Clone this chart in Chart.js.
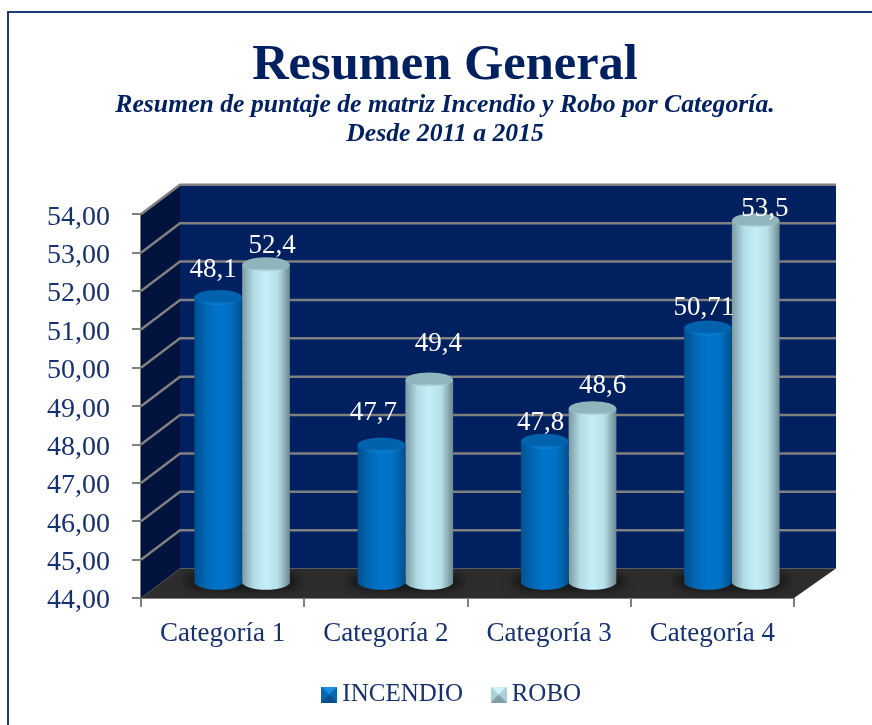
<!DOCTYPE html>
<html>
<head>
<meta charset="utf-8">
<title>Resumen General</title>
<script src="https://cdn.jsdelivr.net/npm/chart.js@4/dist/chart.umd.min.js"></script>
<style>
    html, body { margin: 0; padding: 0; background: #fff; overflow: hidden; }
    #wrap { position: relative; width: 872px; height: 725px; }
    #frame { position: absolute; left: 7px; top: 11px; right: 0; bottom: 0; border-left: 2px solid #1f3a78; border-top: 2px solid #1f3a78; }
    canvas { position: absolute; left: 0; top: 0; }
</style>
</head>
<body>
<div id="wrap">
    <div id="frame"></div>
    <canvas id="chart" width="872" height="725"></canvas>
</div>
<script>
// Data
const categories = ['Categoría 1', 'Categoría 2', 'Categoría 3', 'Categoría 4'];
const seriesNames = ['INCENDIO', 'ROBO'];
const incendioValues = [51.45, 47.6, 47.7, 50.65];
const roboValues = [52.3, 49.3, 48.55, 53.45];
const incendioLabels = ['48,1', '47,7', '47,8', '50,71'];
const roboLabels = ['52,4', '49,4', '48,6', '53,5'];
const axisMin = 44;
const axisMax = 54;

// Nudges of the value labels from the top of their bar [dx, dy]
const incendioNudges = [[-5, -20], [-8, -25], [-4, -11], [-4, -13]];
const roboNudges = [[6, -11], [9, -28], [10, -15], [9, -4]];

const NAVY = '#17316e';
const FONT = '"Liberation Serif", serif';
const AXIS_GREY = '#808080';
const DEPTH_X = 39;
const DEPTH_Y = -29.5;
const RIGHT_DEPTH_X = 42;
const CAP_H = 7.5;

// Bar controller that paints each bar as a cylinder
class CylinderController extends Chart.BarController {
    draw() {
        const ctx = this.chart.ctx;
        const ds = this.getDataset();
        this.getMeta().data.forEach(bar => {
            const rx = bar.width / 2;
            const cx = bar.x + DEPTH_X / 2;
            const top = bar.y + DEPTH_Y / 2;
            const base = bar.base + DEPTH_Y / 2;

            ctx.save();
            const side = ctx.createLinearGradient(cx - rx, 0, cx + rx, 0);
            ds.sideColors.forEach((c, i, all) => side.addColorStop(i / (all.length - 1), c));
            ctx.fillStyle = side;
            ctx.beginPath();
            ctx.moveTo(cx - rx, top);
            ctx.lineTo(cx - rx, base);
            ctx.ellipse(cx, base, rx, CAP_H, 0, Math.PI, 0, true);
            ctx.lineTo(cx + rx, top);
            ctx.closePath();
            ctx.fill();

            const cap = ctx.createLinearGradient(0, top - CAP_H, 0, top + CAP_H);
            cap.addColorStop(0, ds.capColors[0]);
            cap.addColorStop(0.75, ds.capColors[0]);
            cap.addColorStop(1, ds.capColors[1]);
            ctx.fillStyle = cap;
            ctx.beginPath();
            ctx.ellipse(cx, top, rx, CAP_H, 0, 0, Math.PI * 2);
            ctx.fill();
            ctx.restore();
        });
    }
}
CylinderController.id = 'cylinder';
CylinderController.defaults = Chart.BarController.defaults;
CylinderController.overrides = Chart.BarController.overrides;

Chart.register(CylinderController);

// Back wall, side wall, floor and grid lines of the 3D box
const wallsPlugin = {
    id: 'walls',
    beforeDatasetsDraw(chart) {
        const { ctx, chartArea: a, scales } = chart;
        const backTop = a.top + DEPTH_Y;
        const backBottom = a.bottom + DEPTH_Y;
        const backLeft = a.left + DEPTH_X;
        const backRight = a.right + RIGHT_DEPTH_X;

        ctx.save();
        ctx.fillStyle = '#002060';
        ctx.fillRect(backLeft, backTop, backRight - backLeft, backBottom - backTop);

        ctx.fillStyle = '#00133d';
        ctx.beginPath();
        ctx.moveTo(a.left, a.top);
        ctx.lineTo(backLeft, backTop);
        ctx.lineTo(backLeft, backBottom);
        ctx.lineTo(a.left, a.bottom);
        ctx.closePath();
        ctx.fill();

        ctx.fillStyle = '#2d2d2d';
        ctx.beginPath();
        ctx.moveTo(a.left, a.bottom);
        ctx.lineTo(backLeft, backBottom);
        ctx.lineTo(backRight, backBottom);
        ctx.lineTo(a.right, a.bottom);
        ctx.closePath();
        ctx.fill();

        // grid lines, skipping the floor line
        ctx.strokeStyle = AXIS_GREY;
        ctx.lineWidth = 2.5;
        scales.y.ticks.forEach((t, i) => {
            if (t.value === scales.y.min) return;
            const y = scales.y.getPixelForTick(i);
            ctx.beginPath();
            ctx.moveTo(a.left, y);
            ctx.lineTo(backLeft, y + DEPTH_Y);
            ctx.lineTo(backRight, y + DEPTH_Y);
            ctx.stroke();
        });

        // soft shadow under each pair of bars
        ctx.beginPath();
        ctx.moveTo(a.left, a.bottom);
        ctx.lineTo(backLeft, backBottom);
        ctx.lineTo(backRight, backBottom);
        ctx.lineTo(a.right, a.bottom);
        ctx.closePath();
        ctx.clip();
        ctx.filter = 'blur(5px)';
        ctx.fillStyle = '#151515';
        chart.data.datasets.forEach((ds, d) => {
            chart.getDatasetMeta(d).data.forEach(bar => {
                ctx.beginPath();
                ctx.ellipse(bar.x + DEPTH_X / 2, bar.base + DEPTH_Y / 2 - 1, bar.width / 2 + 10, CAP_H + 2, 0, 0, Math.PI * 2);
                ctx.fill();
            });
        });
        ctx.restore();
    }
};

// Value labels as printed on the picture
const valueLabelsPlugin = {
    id: 'valueLabels',
    afterLayout(chart) {
        // legend sits a little right of the title in the reference
        chart.legend.left += 20;
    },
    afterDatasetsDraw(chart) {
        const { ctx } = chart;
        ctx.save();
        ctx.font = '27px ' + FONT;
        ctx.fillStyle = '#ffffff';
        ctx.textAlign = 'center';
        ctx.textBaseline = 'middle';
        chart.data.datasets.forEach((ds, d) => {
            chart.getDatasetMeta(d).data.forEach((bar, i) => {
                const nudge = ds.labelNudges[i];
                ctx.fillText(ds.valueLabels[i], bar.x + DEPTH_X / 2 + nudge[0], bar.y + DEPTH_Y / 2 - CAP_H + nudge[1]);
            });
        });
        ctx.restore();
    }
};

// Little bevelled square used as the legend marker
function makeMarker(mid, light, dark) {
    const c = document.createElement('canvas');
    c.width = 16;
    c.height = 16;
    const g = c.getContext('2d');
    const tri = (color, pts) => {
        g.fillStyle = color;
        g.beginPath();
        pts.forEach((p, i) => (i ? g.lineTo(p[0], p[1]) : g.moveTo(p[0], p[1])));
        g.closePath();
        g.fill();
    };
    tri(mid, [[0, 0], [16, 0], [16, 16], [0, 16]]);
    tri(light, [[0, 0], [16, 0], [8, 8]]);
    tri(dark, [[0, 16], [16, 16], [8, 8]]);
    return c;
}

const markers = [makeMarker('#0668b0', '#1b8fe0', '#0a4f88'), makeMarker('#a9d0d8', '#d2f2f8', '#80a0a8')];

new Chart(document.getElementById('chart'), {
    type: 'cylinder',
    data: {
        labels: categories,
        datasets: [
            {
                label: seriesNames[0],
                data: incendioValues,
                labelNudges: incendioNudges,
                valueLabels: incendioLabels,
                base: axisMin,
                backgroundColor: '#0070c0',
                sideColors: ['#00508f', '#0068b4', '#0075cc', '#0070c4', '#00508c'],
                capColors: ['#0062ac', '#0a86dc']
            },
            {
                label: seriesNames[1],
                data: roboValues,
                labelNudges: roboNudges,
                valueLabels: roboLabels,
                base: axisMin,
                backgroundColor: '#c4eef8',
                sideColors: ['#7d9aa2', '#b2dce6', '#c4eef8', '#b6dfe8', '#6c8890'],
                capColors: ['#8fb5bd', '#c8f2fa']
            }
        ]
    },
    options: {
        responsive: false,
        animation: false,
        layout: { padding: { left: 18, top: 42, bottom: 8 } },
        datasets: { cylinder: { clip: false, categoryPercentage: 0.585, barPercentage: 1 } },
        plugins: {
            title: {
                display: true,
                text: 'Resumen General',
                color: '#002060',
                font: { family: FONT, size: 50.5, weight: 'bold', lineHeight: 0.96 },
                padding: { top: 0, bottom: 0 }
            },
            subtitle: {
                display: true,
                text: ['Resumen de puntaje de matriz Incendio y Robo por Categoría.', 'Desde 2011 a 2015'],
                color: '#002060',
                font: { family: FONT, size: 25.7, weight: 'bold', style: 'italic', lineHeight: 1.15 },
                padding: { top: 0, bottom: 64.7 }
            },
            legend: {
                position: 'bottom',
                labels: {
                    usePointStyle: true,
                    boxWidth: 1,
                    padding: 35,
                    color: NAVY,
                    font: { family: FONT, size: 25 },
                    generateLabels(chart) {
                        return chart.data.datasets.map((ds, i) => ({
                            text: ds.label,
                            pointStyle: markers[i],
                            fontColor: NAVY,
                            datasetIndex: i,
                            lineWidth: 0
                        }));
                    }
                }
            },
            tooltip: { enabled: false }
        },
        scales: {
            x: {
                grid: { drawOnChartArea: false, color: AXIS_GREY, lineWidth: 2, tickLength: 9, offset: true },
                border: { color: AXIS_GREY, width: 2 },
                ticks: { color: NAVY, font: { family: FONT, size: 27 }, padding: 11, maxRotation: 0 },
                afterFit(scale) { scale.height = 49; }
            },
            y: {
                min: axisMin,
                max: axisMax,
                ticks: {
                    stepSize: 1,
                    autoSkip: false,
                    color: NAVY,
                    padding: 22,
                    labelOffset: 3,
                    font: { family: FONT, size: 28 },
                    callback: value => value.toFixed(2).replace('.', ',')
                },
                grid: { drawOnChartArea: false, color: AXIS_GREY, lineWidth: 2, tickLength: 9 },
                border: { color: AXIS_GREY, width: 2 },
                afterFit(scale) { scale.width = 141 - 18; }
            },
            // empty axis, only keeps room for the depth of the box on the right
            depthRoom: {
                position: 'right',
                ticks: { display: false },
                grid: { display: false },
                border: { display: false },
                afterFit(scale) { scale.width = 872 - 794; }
            }
        }
    },
    plugins: [wallsPlugin, valueLabelsPlugin]
});
</script>
</body>
</html>
